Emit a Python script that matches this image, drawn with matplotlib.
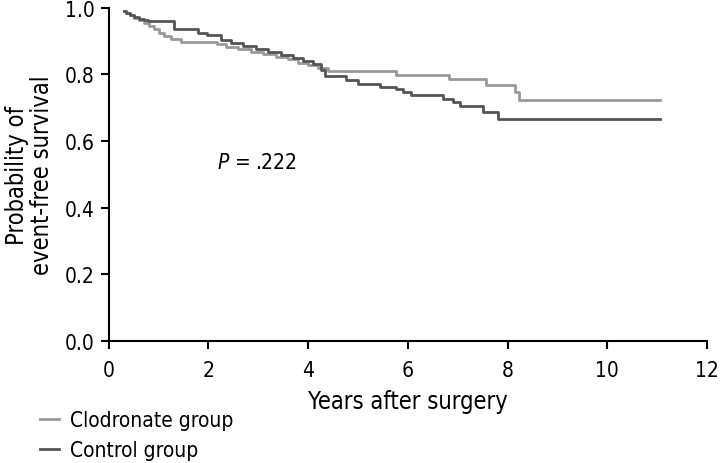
import matplotlib
matplotlib.use("Agg")
import matplotlib.pyplot as plt

plt.rcParams['font.family'] = ['DejaVu Sans']
plt.rcParams['font.stretch'] = 'condensed'

# Kaplan-Meier step data (years, survival)
clod_t = [0.3, 0.35, 0.42, 0.5, 0.6, 0.7, 0.8, 0.9, 1.0, 1.1, 1.25, 1.45,
          2.17, 2.35, 2.6, 2.85, 3.1, 3.35, 3.6, 3.8, 4.0, 4.2, 4.4,
          5.76, 6.83, 7.57, 8.15, 8.22, 11.05]
clod_s = [0.99, 0.985, 0.978, 0.97, 0.962, 0.953, 0.945, 0.935, 0.925, 0.915, 0.905, 0.898,
          0.89, 0.882, 0.875, 0.868, 0.86, 0.852, 0.845, 0.835, 0.828, 0.818, 0.81,
          0.797, 0.786, 0.767, 0.747, 0.722, 0.722]

ctrl_t = [0.3, 0.35, 0.42, 0.5, 0.6, 0.7, 0.78, 1.3, 1.8, 1.97, 2.25, 2.45,
          2.7, 2.95, 3.2, 3.45, 3.7, 3.9, 4.1, 4.25, 4.34, 4.76, 5.0, 5.44,
          5.76, 5.9, 6.06, 6.7, 6.9, 7.05, 7.5, 7.8, 11.05]
ctrl_s = [0.99, 0.985, 0.978, 0.972, 0.967, 0.964, 0.96, 0.937, 0.925, 0.917, 0.902, 0.893,
          0.884, 0.876, 0.866, 0.858, 0.85, 0.84, 0.83, 0.812, 0.794, 0.782, 0.772, 0.762,
          0.755, 0.747, 0.737, 0.727, 0.716, 0.704, 0.686, 0.667, 0.667]

labels = ["Clodronate group", "Control group"]
colors = ["#999999", "#555555"]

fig = plt.figure(figsize=(7.2, 4.64), dpi=100)
ax = fig.add_axes([0.151, 0.263, 0.831, 0.718])

l1, = ax.step(clod_t, clod_s, where="post", color=colors[0], lw=2.0)
l2, = ax.step(ctrl_t, ctrl_s, where="post", color=colors[1], lw=2.0)

ax.set_xlim(0, 12)
ax.set_ylim(0, 1.0)
ax.set_xticks(range(0, 13, 2))
ax.set_yticks([0.0, 0.2, 0.4, 0.6, 0.8, 1.0])
ax.set_yticklabels(["0.0", "0.2", "0.4", "0.6", "0.8", "1.0"])
for s in ["top", "right"]:
    ax.spines[s].set_visible(False)
for s in ["left", "bottom"]:
    ax.spines[s].set_linewidth(1.5)
ax.tick_params(direction="out", length=6, width=1.5, labelsize=15)
ax.tick_params(axis="x", pad=8)
ax.tick_params(axis="y", pad=4)

ax.set_xlabel("Years after surgery", fontsize=17, labelpad=6)
ax.set_ylabel("Probability of\nevent-free survival", fontsize=17, labelpad=8,
              linespacing=1.05)

ax.text(2.17, 0.537, r"$\it{P}$ = .222", fontsize=15, va="center", ha="left")

fig.legend([l1, l2], labels, loc="lower left", bbox_to_anchor=(0.03, -0.035),
           frameon=False, fontsize=15, handlelength=0.9, handletextpad=0.5,
           labelspacing=0.5)

fig.savefig("out.png", dpi=100)
